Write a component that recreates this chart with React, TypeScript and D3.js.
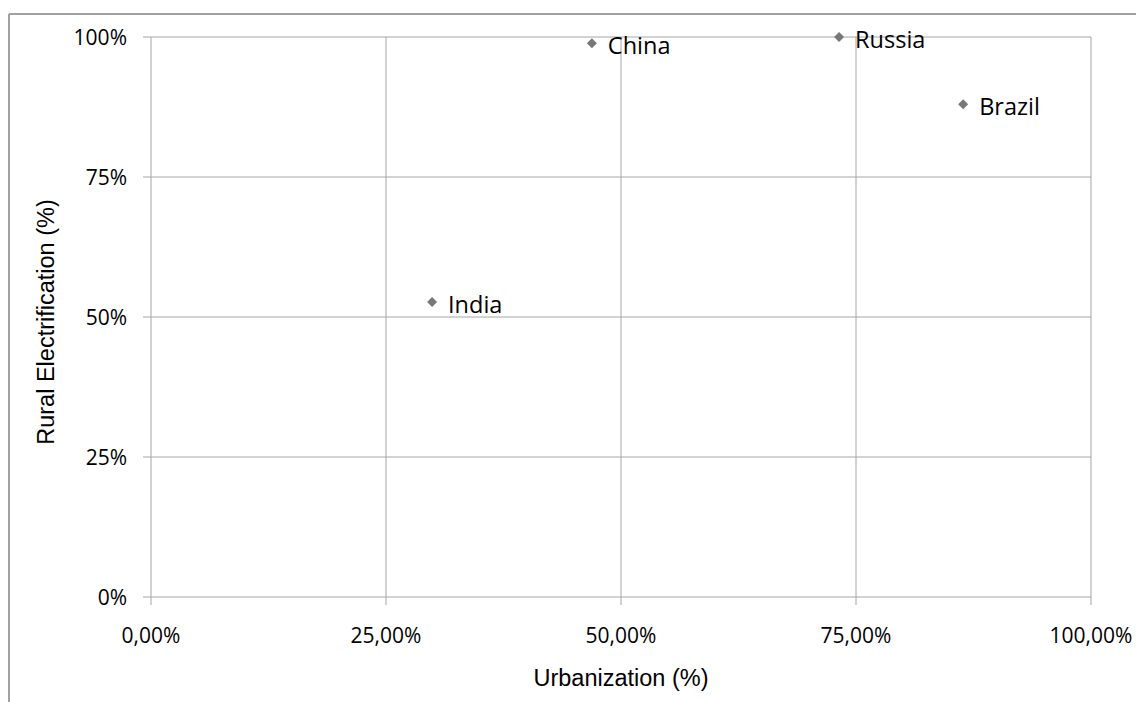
import React from "react";
import * as d3 from "d3";

const countries = ["India", "China", "Russia", "Brazil"];
const urbanization = [0.299, 0.469, 0.732, 0.864];
const ruralElectrification = [0.527, 0.989, 1.0, 0.88];
const xTicks = [0, 0.25, 0.5, 0.75, 1];
const yTicks = [0, 0.25, 0.5, 0.75, 1];

const W = 1136;
const H = 702;
const margin = { left: 151, right: 45, top: 37, bottom: 105 };

export default function App() {
  const x = d3.scaleLinear().domain([0, 1]).range([margin.left, W - margin.right]);
  const y = d3.scaleLinear().domain([0, 1]).range([H - margin.bottom, margin.top]);
  const fmtX = (v: number) => d3.format(".2f")(v * 100).replace(".", ",") + "%";
  const fmtY = (v: number) => d3.format(".0f")(v * 100) + "%";
  const grid = "#a6a6a6";
  const marker = d3.symbol().type(d3.symbolSquare).size(50)();
  const tickFont = "'Open Sans', 'Liberation Sans', sans-serif";
  const titleFont = "'Liberation Sans', Arial, sans-serif";

  return (
    <svg
      width={W}
      height={H}
      style={{ position: "absolute", left: 0, top: 0, background: "#fff" }}
    >
      {/* chart frame */}
      <line x1={9} x2={W} y1={14} y2={14} stroke="#a0a0a0" strokeWidth={2} />
      <line x1={9} x2={9} y1={14} y2={H} stroke="#a0a0a0" strokeWidth={2} />

      {/* horizontal gridlines + y ticks */}
      {yTicks.map((t) => (
        <g key={"y" + t}>
          <line x1={x(0) - 8} x2={x(1)} y1={y(t)} y2={y(t)} stroke={grid} strokeWidth={1} />
          <text
            x={127}
            y={y(t)}
            dy="0.36em"
            textAnchor="end"
            fontFamily={tickFont}
            fontSize={21}
            fill="#000"
          >
            {fmtY(t)}
          </text>
        </g>
      ))}

      {/* vertical gridlines + x ticks */}
      {xTicks.map((t) => (
        <g key={"x" + t}>
          <line x1={x(t)} x2={x(t)} y1={y(1)} y2={y(0) + 8} stroke={grid} strokeWidth={1} />
          <text
            x={x(t)}
            y={643}
            textAnchor="middle"
            fontFamily={tickFont}
            fontSize={21}
            fill="#000"
          >
            {fmtX(t)}
          </text>
        </g>
      ))}

      {/* axis titles */}
      <text
        x={x(0.5)}
        y={686}
        textAnchor="middle"
        fontFamily={titleFont}
        fontSize={23.5}
        fill="#000"
      >
        Urbanization (%)
      </text>
      <text
        transform={`translate(54, ${y(0.5) + 5}) rotate(-90)`}
        textAnchor="middle"
        fontFamily={titleFont}
        fontSize={23.5}
        fill="#000"
      >
        Rural Electrification (%)
      </text>

      {/* points with labels */}
      {countries.map((c, i) => (
        <g key={c}>
          <path
            d={marker ?? ""}
            transform={`translate(${x(urbanization[i])}, ${y(ruralElectrification[i])}) rotate(45)`}
            fill="#777777"
          />
          <text
            x={x(urbanization[i]) + 16}
            y={y(ruralElectrification[i]) + 11}
            fontFamily={tickFont}
            fontSize={23.5}
            fill="#000"
          >
            {c}
          </text>
        </g>
      ))}
    </svg>
  );
}
